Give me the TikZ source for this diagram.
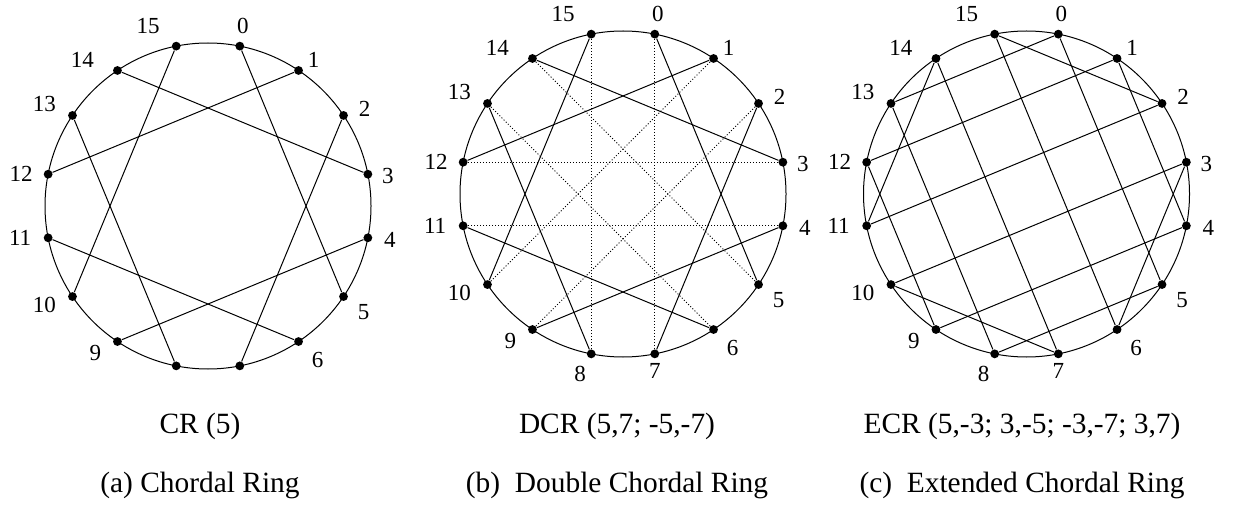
\documentclass[tikz,border=0pt]{standalone}
\usepackage{fontspec}
\setmainfont{Liberation Serif}
\usetikzlibrary{positioning}

\begin{document}
\begin{tikzpicture}[x=0.5pt,y=0.5pt,
  vtx/.style={circle,fill,inner sep=0pt,minimum size=4.4pt},
  num/.style={font=\fontsize{11.5}{13}\selectfont,inner sep=0pt},
  chord/.style={line width=0.5pt},
  dchord/.style={line width=0.5pt,densely dotted},
  captext/.style={font=\fontsize{14.7}{17}\selectfont},
  node distance=9.5pt]
\useasboundingbox (0,0) rectangle (1235,504);

% three rings of sixteen nodes
\foreach \r/\cx/\cy/\bare in {a/208/298/1,b/623/310/0,c/1026.5/310/0}{
  \draw[chord] (\cx,\cy) circle (163);
  \foreach \i [evaluate=\i as \ang using {mod(438.75-22.5*\i,360)}] in {0,...,15}
    \node[vtx] (\r\i) at ([shift={(\cx,\cy)}]\ang:163) {};
  % numbers beside the nodes (ring a leaves 7 and 8 bare)
  \foreach \i/\dx/\dy in {0/3/20,1/15/11,2/21/7,3/20/-2,4/22/-2,5/20/-16,6/19/-18,7/0/-17,
      8/-11/-20,9/-22/-11,10/-28/-8,11/-28/0,12/-27/0,13/-28/11,14/-35/11,15/-28/20}{
    \pgfmathtruncatemacro\nolab{\bare*(\i==7||\i==8)}
    \ifnum\nolab=0
      \node[num] (lab\r\i) at ([shift={(\dx,\dy)}]\r\i) {\i};
    \fi
  }
}

% CR(5): even nodes jump +5
\foreach \i [evaluate=\i as \j using {int(mod(\i+5,16))}] in {0,2,...,14}{
  \draw[chord] (a\i) -- (a\j);
  \draw[chord] (b\i) -- (b\j);
}
% DCR: extra +7 chords
\foreach \i [evaluate=\i as \j using {int(mod(\i+7,16))}] in {0,2,...,14}
  \draw[dchord] (b\i) -- (b\j);
% ECR
\foreach \i/\j in {0/5,0/13,1/4,1/12,2/15,2/11,3/6,3/10,4/9,5/8,6/15,7/10,7/14,8/13,9/12,11/14}
  \draw[chord] (c\i) -- (c\j);

\node[captext] (cra) at (200,78) {CR (5)};
\node[captext] (crb) at (617,78) {DCR (5,7; -5,-7)};
\node[captext] (crc) at (1022,78) {ECR (5,-3; 3,-5; -3,-7; 3,7)};
\node[captext,below=of cra] (suba) {(a) Chordal Ring};
\node[captext,below=of crb] (subb) {(b)\ \ Double Chordal Ring};
\node[captext,below=of crc] (subc) {(c)\ \ Extended Chordal Ring};
\end{tikzpicture}
\end{document}
